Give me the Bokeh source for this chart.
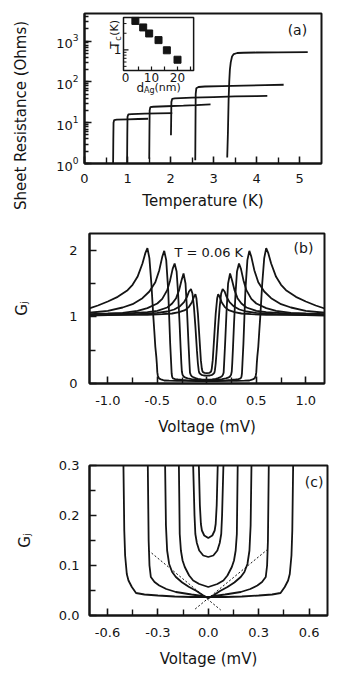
from math import pi
from bokeh.plotting import figure
from bokeh.layouts import column, row
from bokeh.models import Range1d, FixedTicker, NumeralTickFormatter, LogScale, LogTicker
from bokeh.embed import file_html
from bokeh.resources import INLINE
from bokeh.core.properties import value

FONT = "DejaVu Sans"
INK = "#141414"

# ---------------- Panel (a): sheet resistance vs temperature ----------------
T1 = [0.665, 0.67, 0.675, 0.69, 0.75, 1.0, 1.25, 1.48]
R1 = [1.0, 4.0, 10.0, 11.6, 11.9, 12.1, 12.3, 12.5]
T2 = [0.99, 0.995, 1.0, 1.02, 1.1, 1.4, 1.7, 2.04]
R2 = [1.0, 5.0, 14.0, 16.0, 16.3, 16.6, 16.9, 17.2]
T3 = [1.505, 1.51, 1.515, 1.53, 1.6, 1.9, 2.3, 2.6, 2.93]
R3 = [1.3, 6.0, 20.0, 24.0, 24.6, 25.3, 26.2, 27.0, 28.0]
T4 = [2.01, 2.015, 2.02, 2.04, 2.1, 2.5, 3.0, 3.5, 4.0, 4.25]
R4 = [4.9, 12.0, 32.0, 38.5, 39.5, 41.0, 42.5, 44.0, 45.0, 45.5]
T5 = [2.575, 2.58, 2.585, 2.6, 2.65, 2.8, 3.2, 3.7, 4.2, 4.63]
R5 = [1.2, 8.0, 50.0, 70.0, 75.0, 77.0, 79.0, 81.0, 83.0, 85.0]
T6 = [3.318, 3.335, 3.35, 3.365, 3.38, 3.40, 3.43, 3.47, 3.55, 3.7, 4.0, 4.5, 5.19]
R6 = [1.4, 6.0, 35.0, 100.0, 200.0, 300.0, 420.0, 480.0, 510.0, 518.0, 525.0, 530.0, 535.0]

a_x_major = [0, 1, 2, 3, 4, 5]
a_x_minor = [0.5, 1.5, 2.5, 3.5, 4.5]

# inset: Tc vs silver thickness
d_ag = [3.8, 6.8, 9.1, 12.7, 15.9, 20.0]
tc_inset = [3.35, 2.55, 1.98, 1.5, 0.98, 0.66]
inset_x_ticks = [5, 10, 15, 20, 25]
inset_x_labels = ["0", "10", "20"]
inset_x_label_pos = [0, 10, 20]
inset_y_minor = [0.5, 0.6, 0.7, 0.8, 0.9, 2, 3]

# ---------------- Panels (b), (c): conductance vs voltage (V >= 0 halves) ----------------
V1 = [0, 0.1, 0.2, 0.3, 0.38, 0.43, 0.455, 0.475, 0.485, 0.495, 0.5, 0.505, 0.51, 0.52, 0.53, 0.54,
      0.56, 0.58, 0.6, 0.62, 0.65, 0.7, 0.75, 0.8, 0.9, 1.0, 1.1, 1.2]
G1 = [0.037, 0.037, 0.038, 0.04, 0.042, 0.045, 0.057, 0.07, 0.083, 0.12, 0.17, 0.3, 0.4, 0.55, 0.78, 1.0,
      1.5, 1.88, 2.03, 1.96, 1.8, 1.6, 1.48, 1.4, 1.3, 1.23, 1.17, 1.12]
V2 = [0, 0.034, 0.1, 0.193, 0.25, 0.292, 0.32, 0.342, 0.35, 0.355, 0.36, 0.37, 0.38, 0.39, 0.41, 0.43,
      0.45, 0.48, 0.52, 0.58, 0.65, 0.75, 0.85, 1.0, 1.2]
G2 = [0.035, 0.039, 0.042, 0.047, 0.053, 0.06, 0.067, 0.077, 0.1, 0.15, 0.3, 0.6, 1.0, 1.4, 1.85, 1.99,
      1.9, 1.7, 1.52, 1.38, 1.28, 1.19, 1.14, 1.09, 1.06]
V3 = [0, 0.034, 0.07, 0.114, 0.155, 0.193, 0.215, 0.233, 0.245, 0.252, 0.257, 0.265, 0.275, 0.29, 0.305,
      0.325, 0.345, 0.37, 0.4, 0.45, 0.5, 0.6, 0.7, 0.85, 1.0, 1.2]
G3 = [0.035, 0.041, 0.049, 0.057, 0.066, 0.077, 0.087, 0.103, 0.13, 0.18, 0.3, 0.55, 0.9, 1.35, 1.68,
      1.8, 1.72, 1.55, 1.4, 1.27, 1.2, 1.13, 1.09, 1.06, 1.05, 1.04]
V4 = [0, 0.054, 0.09, 0.114, 0.14, 0.153, 0.163, 0.17, 0.175, 0.185, 0.2, 0.215, 0.235, 0.255, 0.28,
      0.31, 0.35, 0.4, 0.5, 0.6, 0.8, 1.0, 1.2]
G4 = [0.057, 0.063, 0.07, 0.08, 0.097, 0.11, 0.13, 0.163, 0.3, 0.6, 1.1, 1.5, 1.65, 1.55, 1.4,
      1.28, 1.2, 1.14, 1.09, 1.07, 1.05, 1.04, 1.03]
V5 = [0, 0.03, 0.054, 0.068, 0.077, 0.082, 0.09, 0.1, 0.115, 0.13, 0.145, 0.16, 0.18, 0.2, 0.23, 0.27,
      0.33, 0.4, 0.5, 0.7, 0.9, 1.2]
G5 = [0.117, 0.12, 0.13, 0.145, 0.163, 0.2, 0.3, 0.5, 0.85, 1.15, 1.35, 1.415, 1.38, 1.3, 1.22, 1.16,
      1.11, 1.08, 1.06, 1.04, 1.03, 1.02]
V6 = [0, 0.024, 0.038, 0.044, 0.05, 0.06, 0.075, 0.09, 0.105, 0.115, 0.13, 0.15, 0.18, 0.22, 0.28,
      0.35, 0.45, 0.6, 0.8, 1.0, 1.2]
G6 = [0.155, 0.16, 0.17, 0.183, 0.22, 0.35, 0.7, 1.05, 1.28, 1.34, 1.3, 1.22, 1.15, 1.1, 1.07,
      1.05, 1.04, 1.03, 1.03, 1.03, 1.03]

# dotted guide lines in (c)
guide1_v = [-0.356, 0.074]
guide1_g = [0.13, 0.011]
guide2_v = [-0.078, 0.356]
guide2_g = [0.013, 0.133]

b_x_major = [-1.0, -0.5, 0.0, 0.5, 1.0]
b_x_minor = [-0.75, -0.25, 0.25, 0.75]
b_y_major = [0, 1, 2]
b_y_minor = [0.5, 1.5]
c_x_major = [-0.6, -0.3, 0.0, 0.3, 0.6]
c_x_minor = [-0.45, -0.15, 0.15, 0.45]
c_y_major = [0.0, 0.1, 0.2, 0.3]
c_y_minor = [0.05, 0.15, 0.25]


def mirror(v, g):
    xs = [-x for x in v[::-1]] + list(v[1:])
    ys = list(g[::-1]) + list(g[1:])
    return xs, ys


def style(p, minor_len=6):
    p.outline_line_color = INK
    p.outline_line_width = 2
    p.outline_line_alpha = 1
    p.grid.visible = False
    p.background_fill_color = "white"
    p.border_fill_color = "white"
    for ax in list(p.xaxis) + list(p.yaxis):
        ax.axis_line_width = 2
        ax.axis_line_color = INK
        ax.major_tick_in = 7
        ax.major_tick_out = 0
        ax.minor_tick_in = minor_len
        ax.minor_tick_out = 0
        ax.major_tick_line_width = 1.6
        ax.minor_tick_line_width = 1.4
        ax.major_tick_line_color = INK
        ax.minor_tick_line_color = INK
        ax.major_label_text_font = FONT
        ax.major_label_text_font_size = "13px"
        ax.major_label_text_color = INK
        ax.axis_label_text_font = FONT
        ax.axis_label_text_font_size = "15px"
        ax.axis_label_text_font_style = "normal"
        ax.axis_label_text_color = INK


# ---------------- y label strip for (a) ----------------
lab = figure(frame_width=30, frame_height=225, x_range=Range1d(0, 30), y_range=Range1d(0, 225),
             min_border_left=0, min_border_right=0, min_border_top=0, min_border_bottom=0,
             x_axis_location=None, y_axis_location=None,
             output_backend="svg", toolbar_location=None)
lab.outline_line_color = None
lab.grid.visible = False
lab.title.visible = False
lab.background_fill_color = "white"
lab.border_fill_color = "white"
lab.text(x=[20], y=[123], text=["Sheet Resistance (Ohms)"], angle=pi / 2, text_align="center",
         text_baseline="middle", text_font=value(FONT), text_font_size="15px", text_color=INK)

# ---------------- figure (a) ----------------
pa = figure(frame_width=237, frame_height=150, min_border_left=54, min_border_right=15,
            min_border_top=13, min_border_bottom=62, x_range=Range1d(0, 5.51),
            y_range=Range1d(1, 4740), y_axis_type="log", output_backend="svg",
            toolbar_location=None)
style(pa)
pa.xaxis.ticker = FixedTicker(ticks=a_x_major, minor_ticks=a_x_minor)
pa.yaxis.ticker = LogTicker(num_minor_ticks=10)
pa.yaxis.minor_tick_in = 4
pa.xaxis.axis_label = "Temperature (K)"
pa.xaxis.major_label_standoff = 10
pa.xaxis.axis_label_standoff = 6
pa.yaxis.major_label_standoff = 6

for T, R in [(T1, R1), (T2, R2), (T3, R3), (T4, R4), (T5, R5), (T6, R6)]:
    pa.line(T, R, line_color=INK, line_width=1.8)

pa.text(x=[4.95], y=[1820], text=["(a)"], text_align="center", text_baseline="middle",
        text_font=value(FONT), text_font_size="14px", text_color=INK)

# inset drawn with its own ranges
pa.extra_x_ranges = {"ix": Range1d(-15.77, 75.38)}
pa.extra_y_ranges = {"iy": Range1d(0.00857, 4.57)}
pa.extra_y_scales = {"iy": LogScale()}
pa.quad(left=-0.77, right=26.2, bottom=0.42, top=3.87, x_range_name="ix", y_range_name="iy",
        fill_color="white", line_color=INK, line_width=1.5)
tick_up = 0.42 * 10 ** (4 / 55)
pa.segment(x0=inset_x_ticks, y0=[0.42] * len(inset_x_ticks), x1=inset_x_ticks,
           y1=[tick_up] * len(inset_x_ticks), x_range_name="ix", y_range_name="iy",
           line_color=INK, line_width=1.2)
pa.segment(x0=[-0.77], y0=[1.0], x1=[-0.77 + 5 / 2.6], y1=[1.0], x_range_name="ix", y_range_name="iy",
           line_color=INK, line_width=1.2)
pa.segment(x0=[-0.77] * len(inset_y_minor), y0=inset_y_minor,
           x1=[-0.77 + 3 / 2.6] * len(inset_y_minor), y1=inset_y_minor,
           x_range_name="ix", y_range_name="iy", line_color=INK, line_width=1.0)
pa.scatter(d_ag, tc_inset, marker="square", size=7, fill_color=INK, line_color=INK,
           x_range_name="ix", y_range_name="iy")
pa.text(x=inset_x_label_pos, y=[0.42] * 3, text=inset_x_labels, y_offset=2,
        text_align="center", text_baseline="top", text_font=value(FONT), text_font_size="12px",
        text_color=INK, x_range_name="ix", y_range_name="iy")
pa.text(x=[-0.77], y=[1.0], text=["1"], x_offset=-2, text_align="right", text_baseline="middle",
        text_font=value(FONT), text_font_size="12px", text_color=INK,
        x_range_name="ix", y_range_name="iy")
# T_c(K) rotated
pa.text(x=[-0.77] * 3, y=[1.0] * 3, text=["T", "c", "(K)"], x_offset=[-9, -5, -9],
        y_offset=[-1, -9, -14], angle=pi / 2, text_align="left", text_baseline="middle",
        text_font=value(FONT), text_font_size=["12px", "8px", "11px"], text_color=INK,
        x_range_name="ix", y_range_name="iy")
# d_Ag(nm)
pa.text(x=[0.0] * 3, y=[1.0] * 3, text=["d", "Ag", "(nm)"], x_offset=[11, 18.5, 29],
        y_offset=[38, 41, 38], text_align="left", text_baseline="middle",
        text_font=value(FONT), text_font_size=["12px", "8px", "11px"], text_color=INK,
        x_range_name="ix", y_range_name="iy")

# ---------------- figure (b) ----------------
pb = figure(frame_width=235, frame_height=150, min_border_left=89, min_border_right=12,
            min_border_top=8, min_border_bottom=67, x_range=Range1d(-1.185, 1.189),
            y_range=Range1d(0, 2.25), output_backend="svg", toolbar_location=None)
style(pb)
pb.xaxis.ticker = FixedTicker(ticks=b_x_major, minor_ticks=b_x_minor)
pb.yaxis.ticker = FixedTicker(ticks=b_y_major, minor_ticks=b_y_minor)
pb.xaxis.formatter = NumeralTickFormatter(format="0.0")
pb.yaxis.formatter = NumeralTickFormatter(format="0")
pb.xaxis.axis_label = "Voltage (mV)"
pb.xaxis.major_label_standoff = 12
pb.xaxis.axis_label_standoff = 10
pb.yaxis.major_label_standoff = 12
pb.yaxis.axis_label = "G\u2c7c"
pb.yaxis.axis_label_standoff = 35

halves = [(V1, G1), (V2, G2), (V3, G3), (V4, G4), (V5, G5), (V6, G6)]
for v, g in halves:
    xs, ys = mirror(v, g)
    pb.line(xs, ys, line_color=INK, line_width=1.8)

pb.text(x=[0.02], y=[1.97], text=["T = 0.06 K"], text_align="center", text_baseline="middle",
        text_font=value(FONT), text_font_size="13px", text_color=INK)
pb.text(x=[0.977], y=[2.03], text=["(b)"], text_align="center", text_baseline="middle",
        text_font=value(FONT), text_font_size="14px", text_color=INK)

# ---------------- figure (c) ----------------
pc = figure(frame_width=238, frame_height=150, min_border_left=87, min_border_right=11,
            min_border_top=15, min_border_bottom=61, x_range=Range1d(-0.707, 0.7095),
            y_range=Range1d(0, 0.3), output_backend="svg", toolbar_location=None)
style(pc)
pc.xaxis.ticker = FixedTicker(ticks=c_x_major, minor_ticks=c_x_minor)
pc.yaxis.ticker = FixedTicker(ticks=c_y_major, minor_ticks=c_y_minor)
pc.xaxis.formatter = NumeralTickFormatter(format="0.0")
pc.yaxis.formatter = NumeralTickFormatter(format="0.0")
pc.xaxis.axis_label = "Voltage (mV)"
pc.xaxis.major_label_standoff = 12
pc.xaxis.axis_label_standoff = 10
pc.yaxis.major_label_standoff = 10
pc.yaxis.axis_label = "G\u2c7c"
pc.yaxis.axis_label_standoff = 22

for v, g in halves:
    xs, ys = mirror(v, g)
    pc.line(xs, ys, line_color=INK, line_width=1.8)
pc.line(guide1_v, guide1_g, line_color=INK, line_width=1, line_dash="2 2")
pc.line(guide2_v, guide2_g, line_color=INK, line_width=1, line_dash="2 2")

pc.text(x=[0.63], y=[0.267], text=["(c)"], text_align="center", text_baseline="middle",
        text_font=value(FONT), text_font_size="14px", text_color=INK)

layout = column(row(lab, pa), pb, pc)
open("out.html", "w").write(file_html(layout, INLINE))
